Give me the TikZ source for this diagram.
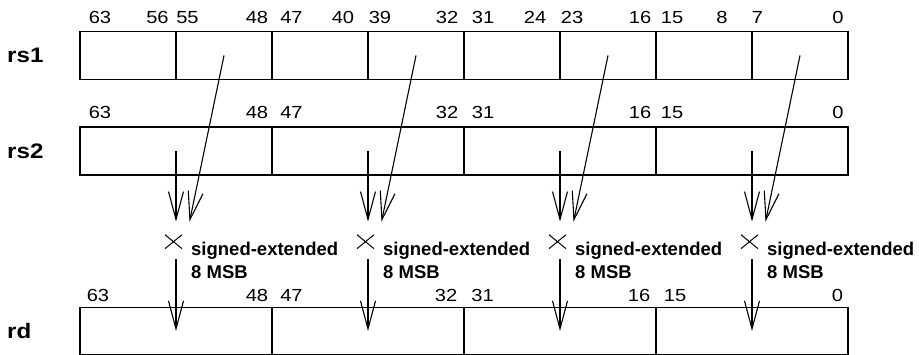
\documentclass[tikz,border=0pt]{standalone}
\usepackage{fontspec}
\setmainfont{Liberation Sans}
\newfontfamily\digitfont[FakeStretch=1.15]{Liberation Sans}
\newfontfamily\regfont[FakeStretch=1.15]{Liberation Sans}
\usetikzlibrary{arrows.meta,shapes.misc}
\begin{document}
\begin{tikzpicture}[x=1pt,y=-1pt,
  cellbox/.style={draw, line width=1.5pt, minimum height=48pt, inner sep=0pt},
  bytecell/.style={cellbox, minimum width=96pt},
  halfcell/.style={cellbox, minimum width=192pt},
  bitlbl/.style={inner sep=0pt, anchor=base, font=\digitfont\fontsize{17.5}{19}\selectfont},
  reglbl/.style={inner sep=0pt, anchor=west, font=\regfont\fontsize{21}{25}\selectfont\bfseries},
  notelbl/.style={inner sep=0pt, anchor=north west, align=left, font=\fontsize{18.5}{23}\selectfont\bfseries},
  arr/.style={-{Straight Barb[length=28pt,width=15pt]}, line width=1.1pt},
  crossmark/.style={draw, cross out, line width=1pt, minimum width=16pt, minimum height=13pt, inner sep=0pt}
]
\useasboundingbox[fill=white] (0,0) rectangle (919,355);

% register labels
\node[reglbl] (lrs1) at (7,55.5) {rs1};
\node[reglbl] (lrs2) at (7,151) {rs2};
\node[reglbl] (lrd) at (7,331) {rd};

% rs1 byte cells
\foreach \k in {0,...,7} {
  \node[bytecell] (a\k) at (128+96*\k,55.5) {};
}
% rs2 and rd half-word fields
\foreach \k in {0,...,3} {
  \node[halfcell] (b\k) at (176+192*\k,151) {};
  \node[cellbox, minimum width=192pt, minimum height=47pt] (r\k) at (176+192*\k,331) {};
}

% bit numbers rs1
\foreach \t/\x in {63/100,56/157.5,55/187.5,48/257,47/291.5,40/343,39/380,32/447,31/483,24/535,23/572,16/640,15/672,8/722,7/757.5,0/838} {
  \node[bitlbl] (ta\t) at (\x,23.3) {\t};
}
% bit numbers rs2
\foreach \t/\x in {63/100,48/257,47/291.5,32/447,31/483,16/640,15/672,0/838} {
  \node[bitlbl] (tb\t) at (\x,118.3) {\t};
}
% bit numbers rd
\foreach \t/\x in {63/98,48/257,47/291.5,32/446,31/482.5,16/639,15/675,0/837.5} {
  \node[bitlbl] (tr\t) at (\x,301.7) {\t};
}

% per-lane datapath
\foreach \k/\o in {0/1,1/3,2/5,3/7} {
  \coordinate (t\k) at (176+192*\k,221.7);
  \coordinate (d\k) at (189.5+192*\k,221.7);
  \coordinate (s\k) at (176+192*\k,259);
  \draw[arr] (b\k.center) -- (t\k);
  \draw[arr] (a\o.center) -- (d\k);
  \node[crossmark] (x\k) at (173.5+192*\k,241.7) {};
  \draw[arr] (s\k) -- (r\k.center);
  \node[notelbl] (n\k) at (191+192*\k,241.5) {signed-extended\\8 MSB};
}
\end{tikzpicture}
\end{document}
